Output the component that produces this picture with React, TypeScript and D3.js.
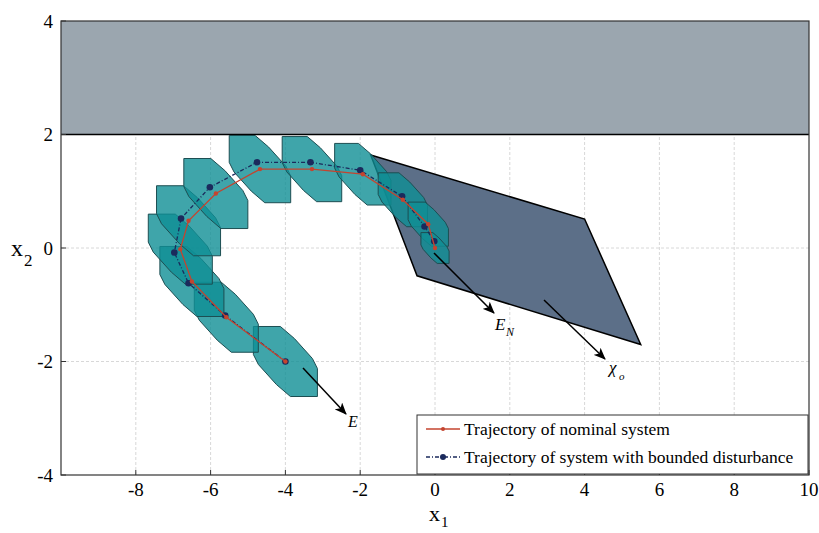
import React from "react";
import * as d3 from "d3";

// ---- data ----
const nominalX = [-4, -5.58, -6.5, -6.81, -6.59, -5.86, -4.68, -3.29, -1.93, -0.86, -0.18, 0];
const nominalY = [-2, -1.22, -0.59, -0.02, 0.48, 0.96, 1.39, 1.39, 1.3, 0.85, 0.42, 0];
const disturbedX = [-4, -5.61, -6.59, -6.97, -6.79, -6.02, -4.76, -3.33, -2.0, -0.88, -0.28, -0.02];
const disturbedY = [-2, -1.19, -0.62, -0.08, 0.52, 1.07, 1.51, 1.51, 1.37, 0.91, 0.38, 0.12];
const tubeScale = [1, 1, 1, 1, 1, 1, 0.96, 0.93, 0.88, 0.77, 0.63, 0.44];
// base tube shape (relative to centre), half of a centrally symmetric polygon
const shapeHalfX = [-0.856, -0.134, 0.241, 0.722, 0.856];
const shapeHalfY = [0.617, 0.617, 0.405, 0.053, -0.123];
const xoX = [-1.72, 4.0, 5.5, -0.48];
const xoY = [1.64, 0.51, -1.7, -0.49];
const bandY = [2, 4];
const xTicks = [-8, -6, -4, -2, 0, 2, 4, 6, 8, 10];
const yTicks = [-4, -2, 0, 2, 4];
const legendLabels = ["Trajectory of nominal system", "Trajectory of system with bounded disturbance"];

const W = 819;
const H = 533;
const x = d3.scaleLinear().domain([-10, 10]).range([61, 809]);
const y = d3.scaleLinear().domain([-4, 4]).range([475, 21]);

const FONT = "'Liberation Serif', 'DejaVu Serif', serif";
const RED = "#c4442f";
const BLUE = "#1b2a5c";

function tubePath(cx: number, cy: number, s: number) {
  const pts: [number, number][] = [];
  for (let i = 0; i < shapeHalfX.length; i++) pts.push([cx + s * shapeHalfX[i], cy + s * shapeHalfY[i]]);
  for (let i = 0; i < shapeHalfX.length; i++) pts.push([cx - s * shapeHalfX[i], cy - s * shapeHalfY[i]]);
  return "M" + pts.map((p) => `${x(p[0])},${y(p[1])}`).join("L") + "Z";
}

export default function App() {
  const line = d3
    .line<number>()
    .x((i) => x(nominalX[i]))
    .y((i) => y(nominalY[i]));
  const lineD = d3
    .line<number>()
    .x((i) => x(disturbedX[i]))
    .y((i) => y(disturbedY[i]));
  const idx = nominalX.map((_, i) => i);
  const xoPath = "M" + xoX.map((v, i) => `${x(v)},${y(xoY[i])}`).join("L") + "Z";

  return (
    <svg
      width={W}
      height={H}
      style={{ position: "absolute", left: 0, top: 0, background: "#fff" }}
      fontFamily={FONT}
    >
      <defs>
        <marker id="arr" viewBox="0 0 12 10" refX="11" refY="5" markerWidth="12" markerHeight="10" markerUnits="userSpaceOnUse" orient="auto">
          <path d="M0,0 L12,5 L0,10 L3,5 Z" fill="#000" />
        </marker>
      </defs>
      {/* grid */}
      {xTicks.filter((t) => t > -10 && t < 10).map((t) => (
        <line key={"gx" + t} x1={x(t)} x2={x(t)} y1={y(-4)} y2={y(4)} stroke="#d8d8d8" strokeWidth={1} strokeDasharray="3,2" />
      ))}
      {yTicks.filter((t) => t > -4 && t < 4).map((t) => (
        <line key={"gy" + t} x1={x(-10)} x2={x(10)} y1={y(t)} y2={y(t)} stroke="#d8d8d8" strokeWidth={1} strokeDasharray="3,2" />
      ))}
      {/* band */}
      <rect x={x(-10)} y={y(bandY[1])} width={x(10) - x(-10)} height={y(bandY[0]) - y(bandY[1])} fill="#9ba6af" />
      <line x1={x(-10)} x2={x(10)} y1={y(bandY[0])} y2={y(bandY[0])} stroke="#000" strokeWidth={1.5} />
      {/* X_o */}
      <path d={xoPath} fill="#5c6f88" stroke="#000" strokeWidth={1.5} strokeLinejoin="miter" />
      {/* tubes */}
      {idx.map((i) => (
        <path key={"t" + i} d={tubePath(nominalX[i], nominalY[i], tubeScale[i])} fill="rgb(15,142,149)" fillOpacity={0.8} stroke="#1d4e52" strokeWidth={1} />
      ))}
      {/* trajectories */}
      <path d={lineD(idx) || ""} fill="none" stroke={BLUE} strokeWidth={1.3} strokeDasharray="4,2,1,2" />
      {idx.map((i) => (
        <circle key={"bd" + i} cx={x(disturbedX[i])} cy={y(disturbedY[i])} r={3.3} fill={BLUE} />
      ))}
      <path d={line(idx) || ""} fill="none" stroke={RED} strokeWidth={1.3} />
      {idx.map((i) => (
        <circle key={"rd" + i} cx={x(nominalX[i])} cy={y(nominalY[i])} r={2.2} fill={RED} />
      ))}
      {/* arrows */}
      <line x1={303} y1={368} x2={346} y2={414} stroke="#000" strokeWidth={1.5} markerEnd="url(#arr)" />
      <line x1={434} y1={253} x2={494} y2={313} stroke="#000" strokeWidth={1.5} markerEnd="url(#arr)" />
      <line x1={544} y1={300} x2={605} y2={359} stroke="#000" strokeWidth={1.5} markerEnd="url(#arr)" />
      <text x={348} y={427} fontSize={16} fontStyle="italic">E</text>
      <text x={495} y={330} fontSize={17} fontStyle="italic">E</text>
      <text x={506} y={336} fontSize={12} fontStyle="italic">N</text>
      <text x={609} y={373} fontSize={17} fontStyle="italic">χ</text>
      <text x={619} y={380} fontSize={11} fontStyle="italic">o</text>
      {/* frame */}
      <rect x={x(-10)} y={y(4)} width={x(10) - x(-10)} height={y(-4) - y(4)} fill="none" stroke="#333" strokeWidth={1.2} />
      {/* ticks */}
      {xTicks.map((t) => (
        <line key={"xt" + t} x1={x(t)} x2={x(t)} y1={y(-4)} y2={y(-4) - 5} stroke="#333" />
      ))}
      {yTicks.map((t) => (
        <line key={"yt" + t} x1={x(-10)} x2={x(-10) + 5} y1={y(t)} y2={y(t)} stroke="#333" />
      ))}
      {/* legend */}
      <rect x={417} y={415} width={391} height={59} fill="#fff" stroke="#333" strokeWidth={1} />
      <line x1={426} x2={460} y1={429} y2={429} stroke={RED} strokeWidth={1.3} />
      <circle cx={443} cy={429} r={2} fill={RED} />
      <text x={464} y={434.5} fontSize={17.5}>{legendLabels[0]}</text>
      <line x1={426} x2={460} y1={457} y2={457} stroke={BLUE} strokeWidth={1.3} strokeDasharray="4,2,1,2" />
      <circle cx={443} cy={457} r={3} fill={BLUE} />
      <text x={464} y={462.5} fontSize={17.5}>{legendLabels[1]}</text>
      {/* tick labels */}
      {xTicks.map((t) => (
        <text key={"xl" + t} x={x(t)} y={496} fontSize={19} textAnchor="middle">{t < 0 ? "-" + Math.abs(t) : String(t)}</text>
      ))}
      {yTicks.map((t) => (
        <text key={"yl" + t} x={53} y={y(t) + 6.5} fontSize={19} textAnchor="end">{t < 0 ? "-" + Math.abs(t) : String(t)}</text>
      ))}
      {/* axis labels */}
      <text x={429} y={521} fontSize={22}>x</text>
      <text x={441} y={527} fontSize={15}>1</text>
      <text x={11} y={256} fontSize={24}>x</text>
      <text x={24} y={266} fontSize={17}>2</text>
    </svg>
  );
}
